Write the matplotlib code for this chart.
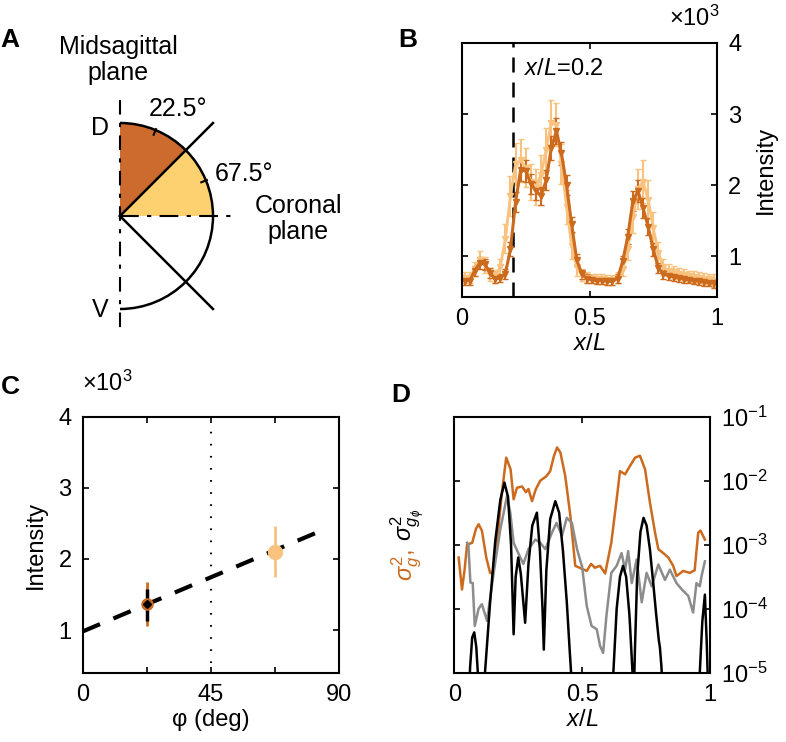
import numpy as np
import matplotlib
matplotlib.use("Agg")
import matplotlib.pyplot as plt
from matplotlib import patches

plt.rcParams['font.family'] = ['Liberation Sans', 'DejaVu Sans']
plt.rcParams['mathtext.fontset'] = 'custom'
plt.rcParams['mathtext.rm'] = 'Liberation Sans'
plt.rcParams['mathtext.it'] = 'Liberation Sans:italic'
plt.rcParams['font.size'] = 17
plt.rcParams['axes.linewidth'] = 1.5

# couleurs
dark = '#CC6A1E'
light = '#F9C27E'
sect_dark = '#CD6A2E'
sect_light = '#FDD16F'

# ---- B : intensité le long de x/L (deux séries, moyenne +/- erreur)
xl = [0.01, 0.03, 0.05, 0.07, 0.09, 0.11, 0.13, 0.15, 0.17, 0.19,
      0.21, 0.23, 0.25, 0.27, 0.29, 0.31, 0.33, 0.35, 0.37, 0.39,
      0.41, 0.43, 0.45, 0.47, 0.49, 0.51, 0.53, 0.55, 0.57, 0.59,
      0.61, 0.63, 0.65, 0.67, 0.69, 0.71, 0.73, 0.75, 0.77, 0.79,
      0.81, 0.83, 0.85, 0.87, 0.89, 0.91, 0.93, 0.95, 0.97, 0.99]
int_dark = [660, 660, 800, 910, 890, 770, 680, 700, 760, 1100,
            1760, 2220, 2200, 2020, 1920, 1850, 2070, 2520, 2760, 2450,
            2000, 1450, 950, 750, 690, 670, 660, 660, 650, 650,
            690, 930, 1280, 1780, 1920, 1680, 1420, 1100, 840, 750,
            730, 710, 700, 680, 670, 660, 650, 640, 630, 620]
err_dark = [60, 60, 70, 80, 80, 70, 60, 60, 70, 100,
            140, 160, 150, 140, 130, 130, 140, 170, 180, 160,
            140, 110, 80, 60, 60, 50, 50, 50, 50, 50,
            60, 80, 100, 140, 150, 140, 120, 90, 70, 60,
            60, 60, 60, 50, 50, 50, 50, 50, 50, 60]
int_light = [700, 700, 820, 950, 880, 750, 720, 850, 1250, 1850,
             2300, 2350, 2250, 2050, 1980, 2150, 2500, 2880, 2850, 2300,
             1700, 1150, 850, 740, 700, 690, 680, 680, 670, 670,
             700, 820, 1100, 1550, 1950, 2050, 1800, 1400, 1050, 850,
             800, 780, 760, 740, 720, 710, 700, 690, 680, 660]
err_light = [80, 80, 100, 120, 110, 90, 90, 120, 200, 280,
             300, 300, 280, 250, 250, 270, 300, 320, 300, 280,
             240, 180, 120, 90, 80, 70, 70, 70, 70, 70,
             80, 100, 150, 220, 280, 300, 280, 220, 160, 110,
             90, 90, 80, 80, 80, 80, 80, 80, 80, 90]
x_cut = 0.2

# ---- C : intensité vs angle
phi_pts = [22.5, 67.5]
phi_int = [1370, 2100]
phi_lo = [1050, 1750]
phi_hi = [1680, 2470]
black_int = 1370
black_lo = 1130
black_hi = 1580
fit_phi = [0, 85]
fit_int = [980, 2420]

# ---- D : variances (exposants log10)
xo = [0.017, 0.030, 0.040, 0.050, 0.070, 0.085, 0.095, 0.108, 0.125, 0.140,
      0.150, 0.167, 0.186, 0.203, 0.220, 0.232, 0.245, 0.265, 0.280, 0.290,
      0.304, 0.318, 0.336, 0.360, 0.375, 0.390, 0.402, 0.415, 0.434, 0.454,
      0.473, 0.490, 0.518, 0.535, 0.550, 0.570, 0.590, 0.614, 0.635, 0.648,
      0.668, 0.687, 0.707, 0.726, 0.746, 0.765, 0.785, 0.798, 0.817, 0.837,
      0.856, 0.869, 0.895, 0.921, 0.940, 0.954, 0.963, 0.980]
lo_orange = [-3.2, -3.7, -3.4, -3.0, -2.97, -2.75, -2.68, -2.78, -3.2, -3.44,
             -3.45, -2.97, -2.19, -1.64, -1.82, -2.29, -2.11, -2.09, -2.18, -2.13,
             -2.32, -2.14, -2.0, -1.93, -1.85, -1.61, -1.48, -1.56, -1.93, -2.55,
             -3.33, -3.36, -3.41, -3.30, -3.36, -3.33, -3.45, -2.97, -2.29, -1.85,
             -1.90, -1.77, -1.64, -1.61, -1.82, -2.34, -2.81, -3.07, -3.13, -3.20,
             -3.33, -3.49, -3.41, -3.44, -3.40, -2.81, -2.78, -2.92]
xg = [0.050, 0.055, 0.063, 0.072, 0.080, 0.095, 0.108, 0.128, 0.154, 0.180,
      0.206, 0.219, 0.232, 0.250, 0.270, 0.290, 0.317, 0.336, 0.356, 0.382,
      0.400, 0.421, 0.440, 0.460, 0.480, 0.500, 0.518, 0.537, 0.557, 0.570,
      0.582, 0.595, 0.614, 0.635, 0.654, 0.668, 0.680, 0.694, 0.713, 0.733,
      0.752, 0.772, 0.798, 0.824, 0.843, 0.869, 0.890, 0.915, 0.934, 0.947,
      0.960, 0.967, 0.980]
lo_gray = [-2.97, -3.0, -3.59, -3.6, -4.27, -4.0, -3.93, -4.19, -3.44, -2.76,
           -2.24, -2.5, -2.97, -3.13, -3.30, -3.07, -2.92, -2.97, -3.07, -2.81,
           -2.66, -2.86, -2.58, -2.66, -3.07, -3.35, -3.96, -4.27, -4.32, -4.58,
           -4.69, -4.11, -3.44, -3.33, -3.13, -3.39, -3.10, -3.60, -3.23, -3.90,
           -3.44, -3.65, -3.31, -3.55, -3.39, -3.60, -3.70, -3.80, -4.06, -3.60,
           -3.65, -3.49, -3.26]
xb = [0.055, 0.062, 0.070, 0.078, 0.086, 0.095, 0.100, 0.110, 0.120, 0.140,
      0.160, 0.180, 0.196, 0.210, 0.222, 0.232, 0.240, 0.250, 0.260, 0.270,
      0.277, 0.290, 0.305, 0.323, 0.335, 0.345, 0.350, 0.360, 0.375, 0.395,
      0.410, 0.425, 0.440, 0.452, 0.460, 0.465, 0.540, 0.600, 0.622, 0.635,
      0.648, 0.660, 0.672, 0.685, 0.697, 0.701, 0.706, 0.715, 0.728, 0.740,
      0.752, 0.765, 0.778, 0.790, 0.800, 0.804, 0.810, 0.815, 0.850, 0.940,
      0.960, 0.970, 0.980, 0.987, 0.993]
lo_black = [-5.5, -4.9, -4.45, -4.37, -4.6, -5.2, -5.6, -6.0, -5.0, -3.9,
            -2.95, -2.3, -2.03, -2.25, -3.0, -4.4, -3.5, -3.2, -3.45, -3.9,
            -4.22, -3.3, -2.7, -2.5, -3.1, -4.0, -4.64, -3.4, -2.6, -2.32,
            -2.5, -3.1, -3.9, -4.7, -5.2, -6.0, -7.0, -7.0, -5.0, -4.0,
            -3.5, -3.33, -3.5, -4.1, -5.0, -5.6, -4.7, -3.5, -2.8, -2.58,
            -2.7, -3.07, -3.6, -4.11, -4.5, -4.6, -4.9, -5.3, -7.0, -7.0,
            -5.0, -4.2, -3.78, -4.5, -5.3]

W, H = 786, 742
fig = plt.figure(figsize=(W / 100, H / 100), dpi=100)


def style(ax):
    ax.tick_params(direction='in', length=4, width=1.2, top=True, right=True,
                   left=True, bottom=True, pad=8)


# ================= A : schéma
axA = fig.add_axes([0, 0.5, 0.5, 0.5])
axA.set_xlim(0, 393)
axA.set_ylim(0, 371)
axA.axis('off')
cx, cy, r = 120, 155, 93
axA.add_patch(patches.Wedge((cx, cy), r, 45, 90, facecolor=sect_dark, edgecolor='none'))
axA.add_patch(patches.Wedge((cx, cy), r, 0, 45, facecolor=sect_light, edgecolor='none'))
axA.add_patch(patches.Arc((cx, cy), 2 * r, 2 * r, theta1=-90, theta2=90, lw=1.8, color='k'))
axA.plot([cx, cx], [271, 41], color='k', lw=1.5, ls=(0, (7, 4, 2, 4)))
axA.plot([cx, 238], [cy, cy], color='k', lw=1.5, ls=(0, (9, 4, 2, 4)))
d = 93
axA.plot([cx, cx + d], [cy, cy + d], color='k', lw=1.8)
axA.plot([cx, cx + d], [cy, cy - d], color='k', lw=1.8)
for ang in [67.5, 22.5]:
    t = np.deg2rad(ang)
    axA.plot([cx + (r - 5) * np.cos(t), cx + (r + 1) * np.cos(t)],
             [cy + (r - 5) * np.sin(t), cy + (r + 1) * np.sin(t)], color='k', lw=1.5)
axA.text(118, 311, 'Midsagittal\nplane', ha='center', va='center', fontsize=18, linespacing=1.15)
axA.text(100, 243, 'D', ha='center', va='center', fontsize=18)
axA.text(100, 61, 'V', ha='center', va='center', fontsize=18)
axA.text(149, 262, '22.5°', ha='left', va='center', fontsize=18)
axA.text(215, 197, '67.5°', ha='left', va='center', fontsize=18)
axA.text(298, 152, 'Coronal\nplane', ha='center', va='center', fontsize=18, linespacing=1.15)

# ================= B
axB = fig.add_axes([462 / W, 1 - 297 / H, 255 / W, 254 / H])
axB.errorbar(xl, int_light, yerr=err_light, fmt='-v', color=light, ms=4,
             lw=2, elinewidth=1.5, capsize=2.5)
axB.errorbar(xl, int_dark, yerr=err_dark, fmt='-v', color=dark, ms=4,
             lw=2.2, elinewidth=1.5, capsize=2.5)
axB.axvline(x_cut, color='k', lw=1.8, ls=(0, (6, 4)))
axB.text(x_cut + 0.045, 3640, '$x$/$L$=0.2', ha='left', va='center', fontsize=17)
axB.set_xlim(0, 1)
axB.set_ylim(430, 4000)
axB.set_xticks([0, 0.5, 1])
axB.set_xticklabels(['0', '0.5', '1'])
axB.set_yticks([1000, 2000, 3000, 4000])
axB.set_yticklabels(['1', '2', '3', '4'])
style(axB)
axB.tick_params(labelleft=False, labelright=True)
axB.yaxis.set_label_position('right')
axB.set_ylabel('Intensity', labelpad=10)
axB.set_xlabel('$x$/$L$', labelpad=2)
fig.text(720 / W, 1 - 18 / H, '×10$^3$', ha='right', va='center', fontsize=17)

# ================= C
axC = fig.add_axes([82.7 / W, 1 - 672.7 / H, 256.6 / W, 256 / H])
axC.plot(fit_phi, fit_int, color='k', lw=3, ls=(0, (4.5, 3.5)))
axC.plot([45, 45], [530, 3850], color='k', lw=1.5, ls=(0, (0.8, 5)))
axC.errorbar([phi_pts[0]], [phi_int[0]],
             yerr=[[phi_int[0] - phi_lo[0]], [phi_hi[0] - phi_int[0]]],
             fmt='o', color=dark, ms=8, elinewidth=2, capsize=0)
axC.errorbar([phi_pts[0]], [black_int],
             yerr=[[black_int - black_lo], [black_hi - black_int]],
             fmt='D', color='k', ms=4, elinewidth=2.5, capsize=0)
axC.errorbar([phi_pts[1]], [phi_int[1]],
             yerr=[[phi_int[1] - phi_lo[1]], [phi_hi[1] - phi_int[1]]],
             fmt='o', color=light, ms=10, elinewidth=2, capsize=0)
axC.set_xlim(0, 90)
axC.set_ylim(400, 4000)
axC.set_xticks([0, 22.5, 45, 67.5, 90])
axC.set_xticklabels(['0', '', '45', '', '90'])
axC.set_yticks([1000, 2000, 3000, 4000])
axC.set_yticklabels(['1', '2', '3', '4'])
style(axC)
axC.set_ylabel('Intensity', labelpad=8)
axC.set_xlabel('\u03c6 (deg)', labelpad=2)
fig.text(82 / W, 1 - 383 / H, '×10$^3$', ha='left', va='center', fontsize=17)

# ================= D
axD = fig.add_axes([454.3 / W, 1 - 672.7 / H, 255.7 / W, 256 / H])
axD.plot(xo, 10.0 ** np.array(lo_orange), color=dark, lw=1.8)
axD.plot(xg, 10.0 ** np.array(lo_gray), color='#8C8C8C', lw=1.8)
axD.plot(xb, 10.0 ** np.array(lo_black), color='k', lw=1.8)
axD.set_yscale('log')
axD.set_xlim(0, 1)
axD.set_ylim(1e-5, 1e-1)
axD.set_yticks([1e-5, 1e-4, 1e-3, 1e-2, 1e-1])
axD.minorticks_off()
axD.set_xticks([0, 0.5, 1])
axD.set_xticklabels(['0', '0.5', '1'])
style(axD)
axD.tick_params(labelleft=False, labelright=True)
axD.set_xlabel('$x$/$L$', labelpad=2)
fig.text(407 / W, 1 - 549 / H, r'$\sigma_g^2$,', color=dark, rotation=90,
         ha='center', va='top', fontsize=17)
fig.text(407 / W, 1 - 547 / H, r' $\sigma_{g_\phi}^2$', color='k', rotation=90,
         ha='center', va='bottom', fontsize=17)

# lettres des panneaux
for lab, X, Y in [('A', 10, 40), ('B', 408, 40), ('C', 10, 387), ('D', 401, 395)]:
    fig.text(X / W, 1 - Y / H, lab, fontsize=19, fontweight='bold', ha='center', va='center')

fig.savefig('out.png', dpi=100)
